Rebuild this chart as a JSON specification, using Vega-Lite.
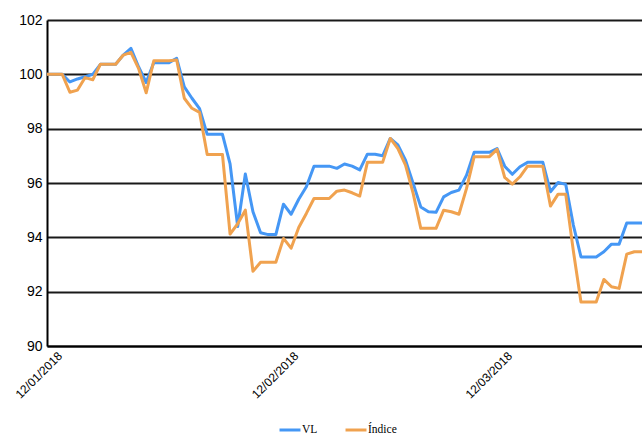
{
  "$schema": "https://vega.github.io/schema/vega-lite/v6.json",
  "width": 595,
  "height": 326,
  "autosize": {"type": "none"},
  "padding": {"left": 47, "top": 20, "right": 0, "bottom": 91},
  "background": "white",
  "config": {
    "view": {"stroke": null},
    "axis": {"labelFont": "Liberation Sans", "labelColor": "#000", "ticks": false, "tickSize": 0, "domainColor": "#000", "domainWidth": 2},
    "legend": {"labelFont": "Liberation Serif", "labelFontSize": 11.5, "labelColor": "#000"}
  },
  "data": {
    "values": [
      {"fecha": "2018-01-12", "VL": 100, "Índice": 100},
      {"fecha": "2018-01-13", "VL": 100, "Índice": 100},
      {"fecha": "2018-01-14", "VL": 100, "Índice": 100},
      {"fecha": "2018-01-15", "VL": 99.72, "Índice": 99.34},
      {"fecha": "2018-01-16", "VL": 99.83, "Índice": 99.42},
      {"fecha": "2018-01-17", "VL": 99.91, "Índice": 99.88},
      {"fecha": "2018-01-18", "VL": 100.0, "Índice": 99.8},
      {"fecha": "2018-01-19", "VL": 100.37, "Índice": 100.37},
      {"fecha": "2018-01-20", "VL": 100.37, "Índice": 100.37},
      {"fecha": "2018-01-21", "VL": 100.37, "Índice": 100.37},
      {"fecha": "2018-01-22", "VL": 100.71, "Índice": 100.71},
      {"fecha": "2018-01-23", "VL": 100.96, "Índice": 100.81},
      {"fecha": "2018-01-24", "VL": 100.28, "Índice": 100.22},
      {"fecha": "2018-01-25", "VL": 99.7, "Índice": 99.32},
      {"fecha": "2018-01-26", "VL": 100.43, "Índice": 100.5},
      {"fecha": "2018-01-27", "VL": 100.43, "Índice": 100.5},
      {"fecha": "2018-01-28", "VL": 100.43, "Índice": 100.5},
      {"fecha": "2018-01-29", "VL": 100.59, "Índice": 100.53},
      {"fecha": "2018-01-30", "VL": 99.54, "Índice": 99.12},
      {"fecha": "2018-01-31", "VL": 99.12, "Índice": 98.75},
      {"fecha": "2018-02-01", "VL": 98.74, "Índice": 98.6},
      {"fecha": "2018-02-02", "VL": 97.79, "Índice": 97.05},
      {"fecha": "2018-02-03", "VL": 97.79, "Índice": 97.05},
      {"fecha": "2018-02-04", "VL": 97.79, "Índice": 97.05},
      {"fecha": "2018-02-05", "VL": 96.7, "Índice": 94.12},
      {"fecha": "2018-02-06", "VL": 94.4, "Índice": 94.5},
      {"fecha": "2018-02-07", "VL": 96.33, "Índice": 95.0},
      {"fecha": "2018-02-08", "VL": 94.94, "Índice": 92.75},
      {"fecha": "2018-02-09", "VL": 94.17, "Índice": 93.08},
      {"fecha": "2018-02-10", "VL": 94.1, "Índice": 93.08},
      {"fecha": "2018-02-11", "VL": 94.1, "Índice": 93.08},
      {"fecha": "2018-02-12", "VL": 95.22, "Índice": 93.96},
      {"fecha": "2018-02-13", "VL": 94.85, "Índice": 93.6},
      {"fecha": "2018-02-14", "VL": 95.4, "Índice": 94.36},
      {"fecha": "2018-02-15", "VL": 95.86, "Índice": 94.88},
      {"fecha": "2018-02-16", "VL": 96.62, "Índice": 95.43},
      {"fecha": "2018-02-17", "VL": 96.62, "Índice": 95.43},
      {"fecha": "2018-02-18", "VL": 96.62, "Índice": 95.43},
      {"fecha": "2018-02-19", "VL": 96.54, "Índice": 95.7},
      {"fecha": "2018-02-20", "VL": 96.7, "Índice": 95.74},
      {"fecha": "2018-02-21", "VL": 96.62, "Índice": 95.64},
      {"fecha": "2018-02-22", "VL": 96.48, "Índice": 95.52},
      {"fecha": "2018-02-23", "VL": 97.06, "Índice": 96.76},
      {"fecha": "2018-02-24", "VL": 97.06, "Índice": 96.76},
      {"fecha": "2018-02-25", "VL": 97.0, "Índice": 96.76},
      {"fecha": "2018-02-26", "VL": 97.64, "Índice": 97.64},
      {"fecha": "2018-02-27", "VL": 97.4, "Índice": 97.27},
      {"fecha": "2018-02-28", "VL": 96.84, "Índice": 96.66},
      {"fecha": "2018-03-01", "VL": 95.98, "Índice": 95.62},
      {"fecha": "2018-03-02", "VL": 95.12, "Índice": 94.33},
      {"fecha": "2018-03-03", "VL": 94.94, "Índice": 94.33},
      {"fecha": "2018-03-04", "VL": 94.92, "Índice": 94.33},
      {"fecha": "2018-03-05", "VL": 95.49, "Índice": 95.0},
      {"fecha": "2018-03-06", "VL": 95.65, "Índice": 94.94},
      {"fecha": "2018-03-07", "VL": 95.74, "Índice": 94.85},
      {"fecha": "2018-03-08", "VL": 96.29, "Índice": 95.8},
      {"fecha": "2018-03-09", "VL": 97.13, "Índice": 96.97},
      {"fecha": "2018-03-10", "VL": 97.13, "Índice": 96.97},
      {"fecha": "2018-03-11", "VL": 97.13, "Índice": 96.97},
      {"fecha": "2018-03-12", "VL": 97.27, "Índice": 97.24},
      {"fecha": "2018-03-13", "VL": 96.62, "Índice": 96.21},
      {"fecha": "2018-03-14", "VL": 96.32, "Índice": 95.96},
      {"fecha": "2018-03-15", "VL": 96.6, "Índice": 96.23},
      {"fecha": "2018-03-16", "VL": 96.76, "Índice": 96.62},
      {"fecha": "2018-03-17", "VL": 96.76, "Índice": 96.62},
      {"fecha": "2018-03-18", "VL": 96.76, "Índice": 96.62},
      {"fecha": "2018-03-19", "VL": 95.68, "Índice": 95.15},
      {"fecha": "2018-03-20", "VL": 96.02, "Índice": 95.59},
      {"fecha": "2018-03-21", "VL": 95.95, "Índice": 95.59},
      {"fecha": "2018-03-22", "VL": 94.45, "Índice": 93.5},
      {"fecha": "2018-03-23", "VL": 93.28, "Índice": 91.62},
      {"fecha": "2018-03-24", "VL": 93.28, "Índice": 91.62},
      {"fecha": "2018-03-25", "VL": 93.28, "Índice": 91.62},
      {"fecha": "2018-03-26", "VL": 93.47, "Índice": 92.45},
      {"fecha": "2018-03-27", "VL": 93.75, "Índice": 92.18},
      {"fecha": "2018-03-28", "VL": 93.75, "Índice": 92.12},
      {"fecha": "2018-03-29", "VL": 94.53, "Índice": 93.38},
      {"fecha": "2018-03-30", "VL": 94.53, "Índice": 93.47},
      {"fecha": "2018-03-31", "VL": 94.53, "Índice": 93.47}
    ]
  },
  "transform": [{"fold": ["VL", "Índice"], "as": ["serie", "valor"]}],
  "mark": {"type": "line", "strokeWidth": 3, "strokeJoin": "round"},
  "encoding": {
    "x": {
      "field": "fecha",
      "type": "temporal",
      "scale": {"type": "utc", "nice": false, "domain": [{"year": 2018, "month": 1, "date": 12, "utc": true}, {"year": 2018, "month": 3, "date": 31, "utc": true}]},
      "axis": {
        "title": null,
        "grid": false,
        "format": "%d/%m/%Y",
        "values": [{"year": 2018, "month": 1, "date": 12, "utc": true}, {"year": 2018, "month": 2, "date": 12, "utc": true}, {"year": 2018, "month": 3, "date": 12, "utc": true}],
        "labelAngle": -45,
        "labelAlign": "right",
        "labelBaseline": "top",
        "labelFontSize": 12,
        "labelOffset": 9,
        "labelPadding": 4,
        "labelFlush": false,
        "labelOverlap": false
      }
    },
    "y": {
      "field": "valor",
      "type": "quantitative",
      "scale": {"domain": [90, 102], "nice": false, "zero": false},
      "axis": {
        "title": null,
        "values": [90, 92, 94, 96, 98, 100, 102],
        "grid": true,
        "gridColor": "#000",
        "gridWidth": 2,
        "gridOpacity": 0.9,
        "labelFontSize": 14,
        "labelPadding": 5
      }
    },
    "color": {
      "field": "serie",
      "type": "nominal",
      "scale": {"domain": ["VL", "Índice"], "range": ["#4597f5", "#f0a24f"]},
      "legend": {
        "title": null,
        "orient": "none",
        "legendX": 231,
        "legendY": 398,
        "direction": "horizontal",
        "symbolType": "stroke",
        "symbolSize": 440,
        "symbolStrokeWidth": 3,
        "labelOffset": 0,
        "columnPadding": 21
      }
    }
  }
}
